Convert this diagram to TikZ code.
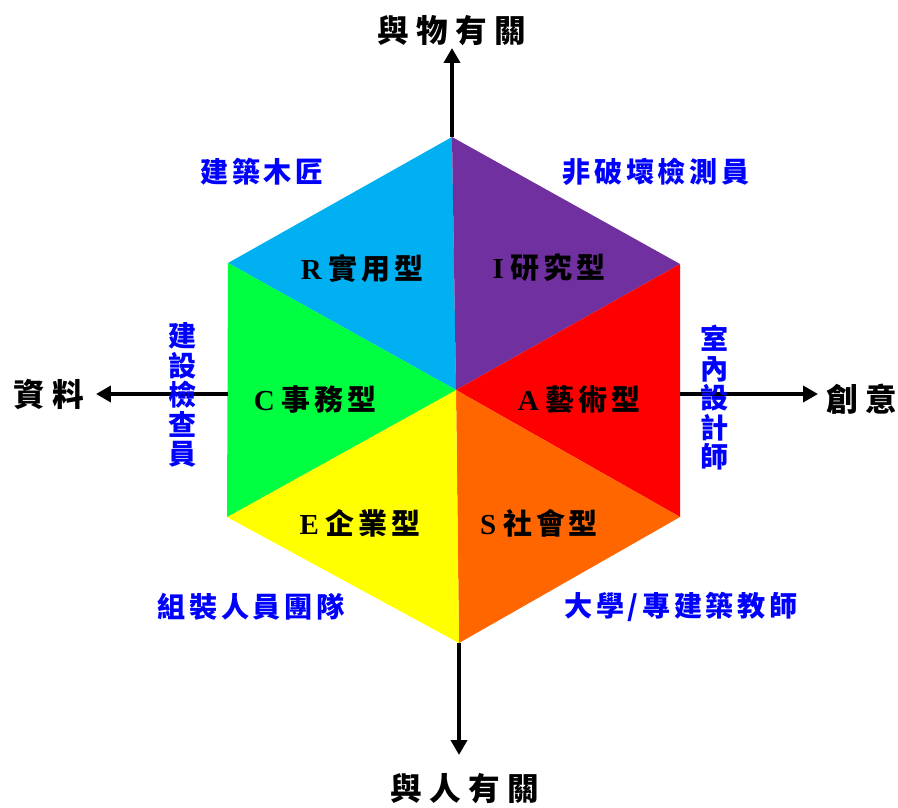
\documentclass[tikz,border=0pt]{standalone}
\usepackage{fontspec}
\newfontfamily\cjkpole{Noto Sans CJK TC}[LetterSpace=24]
\newfontfamily\cjkwide{Noto Sans CJK TC}[LetterSpace=13]
\newfontfamily\lat{Liberation Serif}
\usetikzlibrary{arrows.meta}
\definecolor{realblue}{HTML}{00B0F0}
\definecolor{invpurple}{HTML}{7030A0}
\definecolor{artred}{HTML}{FF0000}
\definecolor{socorange}{HTML}{FF6600}
\definecolor{entyellow}{HTML}{FFFF00}
\definecolor{convgreen}{HTML}{00FF40}
\definecolor{jobblue}{HTML}{0000FF}

\begin{document}
\begin{tikzpicture}[x=0.02cm,y=-0.02cm,
	axis/.style={line width=2.2pt,-{Triangle[length=0.3cm,width=0.32cm]}},
	kind/.style={font=\cjkwide\bfseries\fontsize{16.5}{18}\selectfont},
	pole/.style={font=\cjkpole\bfseries\fontsize{18}{20}\selectfont},
	job/.style={font=\cjkwide\bfseries\fontsize{16}{16.8}\selectfont,text=jobblue,align=center}]
	\useasboundingbox (0,0) rectangle (898,807);
	% hexagon corners
	\coordinate (O) at (456,390);
	\coordinate (T) at (452,137);
	\coordinate (UR) at (680,264);
	\coordinate (LR) at (680,517);
	\coordinate (B) at (459,643);
	\coordinate (LL) at (227,517);
	\coordinate (UL) at (228,263);
	\fill[realblue] (O) -- (UL) -- (T) -- cycle;
	\fill[invpurple] (O) -- (T) -- (UR) -- cycle;
	\fill[artred] (O) -- (UR) -- (LR) -- cycle;
	\fill[socorange] (O) -- (LR) -- (B) -- cycle;
	\fill[entyellow] (O) -- (B) -- (LL) -- cycle;
	\fill[convgreen] (O) -- (LL) -- (UL) -- cycle;
	% axes
	\coordinate (Lstart) at (228,394);
	\coordinate (Rstart) at (680,394);
	\coordinate (topend) at (452,48);
	\coordinate (botend) at (459,755);
	\coordinate (leftend) at (96,394);
	\coordinate (rightend) at (818,394);
	\draw[axis] (T) -- (topend);
	\draw[axis] (B) -- (botend);
	\draw[axis] (Lstart) -- (leftend);
	\draw[axis] (Rstart) -- (rightend);
	\node[pole] (thing) at (452,31) {與物有關};
	\node[pole] (people) at (465,789) {與人有關};
	\node[pole] (data) at (49,394) {資料};
	\node[pole] (idea) at (862,399) {創意};
	% types
	\node[kind] (R) at (362,268) {{\lat R}\hspace{4pt}實用型};
	\node[kind] (I) at (549,268) {{\lat I}\hspace{4pt}研究型};
	\node[kind] (C) at (315,400) {{\lat C}\hspace{4pt}事務型};
	\node[kind] (A) at (579,400) {{\lat A}\hspace{4pt}藝術型};
	\node[kind] (E) at (360,523) {{\lat E}\hspace{4pt}企業型};
	\node[kind] (S) at (539,523) {{\lat S}\hspace{4pt}社會型};
	% jobs
	\node[job] (carp) at (262,172) {建築木匠};
	\node[job] (ndt) at (656,172) {非破壞檢測員};
	\node[job] (insp) at (183,395) {建\\設\\檢\\查\\員};
	\node[job] (design) at (715,398) {室\\內\\設\\計\\師};
	\node[job] (team) at (251,607) {組裝人員團隊};
	\node[job] (teach) at (681,607) {大學/專建築教師};
\end{tikzpicture}
\end{document}
